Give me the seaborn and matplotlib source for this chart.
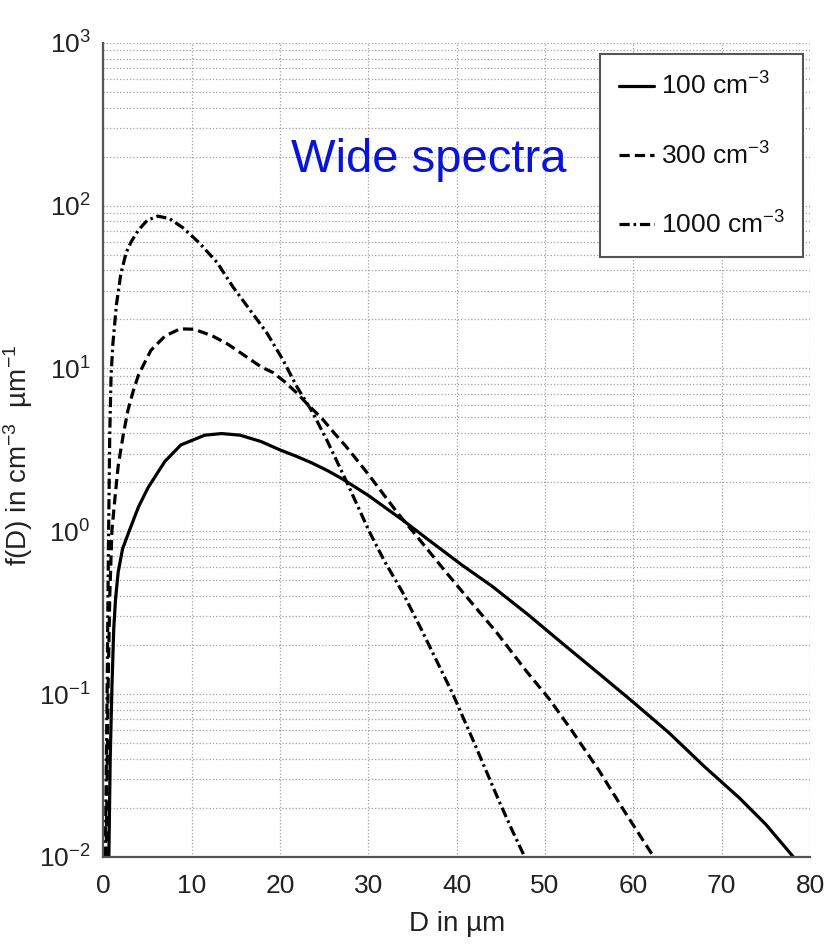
import matplotlib
matplotlib.use("Agg")
import matplotlib.pyplot as plt
import seaborn as sns
import pandas as pd

# Droplet size distributions f(D) for three number concentrations
d_100 = [0.65, 0.8, 1.0, 1.2, 1.4, 1.7, 2.2, 3.0, 4.0, 5.1, 7.0, 8.8, 11.5, 13.4, 15.5,
         17.9, 20, 21.9, 23.6, 25.5, 27.1, 30, 33.9, 37, 40.6, 44, 48, 52, 56, 60,
         64, 68, 72, 75, 78.1]
f_100 = [0.010, 0.040, 0.112, 0.251, 0.38, 0.56, 0.78, 1.02, 1.41, 1.86, 2.69, 3.39,
         3.89, 3.98, 3.89, 3.55, 3.16, 2.88, 2.63, 2.34, 2.09, 1.66, 1.17, 0.87, 0.62,
         0.46, 0.31, 0.204, 0.135, 0.089, 0.058, 0.036, 0.023, 0.0158, 0.010]

d_300 = [0.35, 0.55, 0.75, 1.0, 1.35, 1.7, 2.3, 2.8, 3.4, 4.0, 5.4, 7.0, 8.7, 10.3,
         12.4, 14.1, 16.3, 17.9, 19.2, 20.5, 21.9, 23.3, 24.8, 26.2, 27.5, 30, 33.2,
         35.5, 38.8, 41.4, 44.5, 47.9, 50.5, 53, 56.1, 59, 62.3]
f_300 = [0.010, 0.10, 0.40, 1.02, 1.62, 2.51, 3.98, 5.50, 7.24, 9.12, 12.9, 15.8, 17.5,
         17.4, 15.8, 14.1, 11.7, 10.2, 9.44, 8.32, 7.08, 5.89, 4.90, 3.98, 3.31, 2.24,
         1.32, 0.93, 0.56, 0.38, 0.24, 0.138, 0.093, 0.060, 0.034, 0.019, 0.010]

d_1000 = [0.25, 0.45, 0.6, 0.75, 0.9, 1.1, 1.5, 2.0, 2.6, 3.2, 4.0, 5.0, 6.2, 7.5, 9.0,
          10.9, 12.9, 14.7, 16.6, 18.5, 20.3, 21.9, 23.7, 25.4, 27.5, 30.1, 31.8, 33.9,
          36, 38.4, 39.5, 42, 44.8, 46.3, 47.7]
f_1000 = [0.010, 0.10, 0.79, 3.98, 9.1, 14.1, 24.5, 38.0, 51.3, 60.3, 70.8, 81.3, 86.1,
          83.2, 73.3, 58.9, 44.7, 31.6, 22.9, 16.6, 11.4, 7.76, 5.37, 3.55, 2.04, 1.0,
          0.66, 0.42, 0.25, 0.135, 0.102, 0.050, 0.022, 0.0145, 0.010]

labels = ["100 cm$^{-3}$", "300 cm$^{-3}$", "1000 cm$^{-3}$"]
x_ticks = [0, 10, 20, 30, 40, 50, 60, 70, 80]

sns.set_theme(style="white")
plt.rcParams["font.family"] = ["Liberation Sans", "DejaVu Sans"]
plt.rcParams["mathtext.fontset"] = "custom"
plt.rcParams["mathtext.rm"] = "Liberation Sans"
plt.rcParams["mathtext.default"] = "regular"
plt.rcParams["axes.unicode_minus"] = False

fig = plt.figure(figsize=(8.25, 9.5), dpi=100)
ax = fig.add_axes([0.125, 0.098, 0.857, 0.857])

series = [
    (d_100, f_100, labels[0], "-"),
    (d_300, f_300, labels[1], (0, (3.2, 1.6))),
    (d_1000, f_1000, labels[2], (0, (3.2, 1.2, 0.8, 1.2))),
]
for d, f, lab, ls in series:
    df = pd.DataFrame({"D": d, "f": f})
    sns.lineplot(data=df, x="D", y="f", ax=ax, color="black", lw=2.3,
                 linestyle=ls, label=lab, solid_joinstyle="round",
                 dash_joinstyle="round")

ax.set_yscale("log")
ax.set_xlim(0, 80)
ax.set_ylim(1e-2, 1e3)
ax.set_xticks(x_ticks)
ax.set_xticklabels([str(t) for t in x_ticks])

ax.grid(True, which="major", axis="both", color="#a0a0a0", ls=":", lw=0.9)
ax.grid(True, which="minor", axis="y", color="#a0a0a0", ls=":", lw=0.9)

for s in ["top", "right"]:
    ax.spines[s].set_visible(False)
for s in ["left", "bottom"]:
    ax.spines[s].set_color("#555555")
    ax.spines[s].set_linewidth(1.6)

ax.tick_params(axis="both", which="major", direction="in", length=9, width=1.2,
               color="#555555", labelsize=19, labelcolor="#222222")
ax.tick_params(axis="x", which="major", pad=12)
ax.tick_params(axis="y", which="major", pad=9)
ax.tick_params(axis="y", which="minor", direction="in", length=5, width=0.8,
               color="#555555")

ax.set_xlabel("D in µm", fontsize=20, color="#222222", labelpad=10)
ax.set_ylabel("f(D) in cm$^{-3}$  µm$^{-1}$", fontsize=20, color="#222222")
ax.yaxis.set_label_coords(-0.097, 0.493)

ax.text(0.461, 0.856, "Wide spectra", transform=ax.transAxes, color="#0a14d8",
        fontsize=34, ha="center", va="center")

leg = ax.legend(loc="upper right", bbox_to_anchor=(0.99, 0.986), fontsize=19,
                frameon=True, fancybox=False, framealpha=1, edgecolor="#555555",
                handlelength=1.35, handletextpad=0.25, labelspacing=1.6,
                borderpad=0.7, borderaxespad=0)
leg.get_frame().set_linewidth(1.5)
for t in leg.get_texts():
    t.set_color("#111111")

fig.savefig("out.png", dpi=100)
